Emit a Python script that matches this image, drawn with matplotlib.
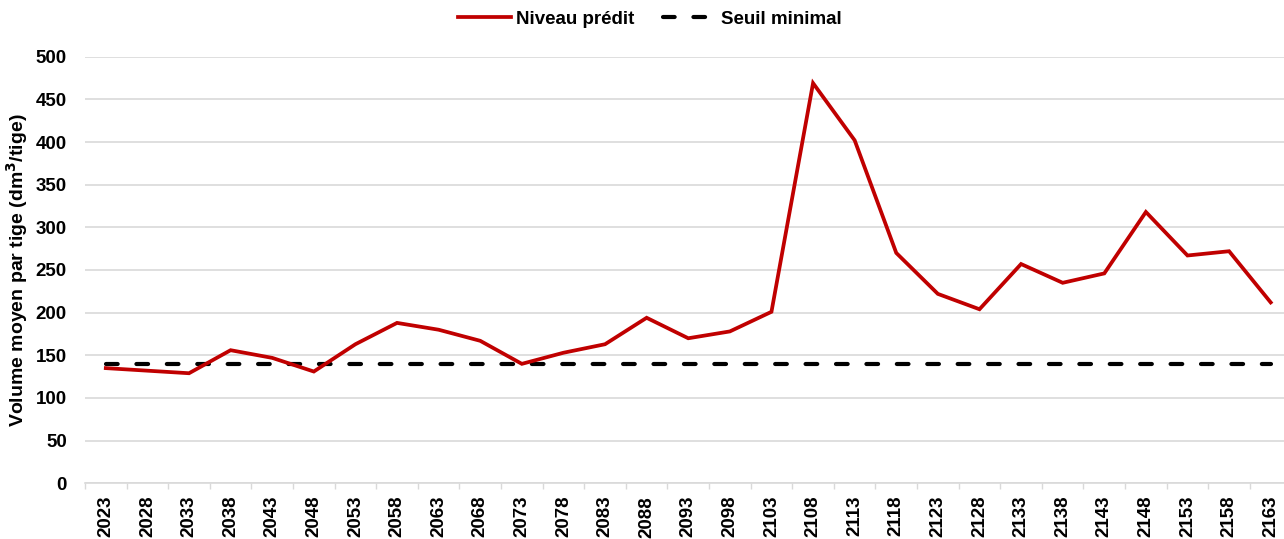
import numpy as np
import matplotlib
matplotlib.use("Agg")
import matplotlib.pyplot as plt

plt.rcParams['font.family'] = ['Liberation Sans', 'DejaVu Sans']
plt.rcParams['font.weight'] = 'bold'

# data
annees = list(range(2023, 2164, 5))
niveau = [135, 132, 129, 156, 147, 131, 163, 188, 180, 167,
          140, 153, 163, 194, 170, 178, 201, 469, 402, 270,
          222, 204, 257, 235, 246, 318, 267, 272, 212]
seuil = [140] * len(annees)

fig = plt.figure(figsize=(12.84, 5.39), dpi=100)
ax = fig.add_axes([85 / 1284, 1 - 483.3 / 539, 1206.5 / 1284, 426.6 / 539])

x = np.arange(len(annees))
ax.plot(x, niveau, color='#c00000', lw=2.7, label='Niveau prédit',
        solid_joinstyle='miter', zorder=3)
ax.plot(x, seuil, color='black', lw=3, dashes=(2.8, 4.5),
        dash_capstyle='round', label='Seuil minimal', zorder=2)

ax.set_xlim(-0.5, len(annees) - 0.5)
ax.set_ylim(0, 500)
ax.set_yticks(range(0, 501, 50))
ax.set_xticks(x)
ax.set_xticklabels([str(a) for a in annees], rotation=90, fontsize=13.5, fontweight='bold')
ax.set_xticks(np.arange(-0.5, len(annees), 1), minor=True)
ax.tick_params(axis='x', which='major', length=0, pad=9)
ax.tick_params(axis='x', which='minor', length=4, color='#d9d9d9', width=1)
ax.tick_params(axis='y', length=0, pad=13, labelsize=13.5)
for lab in ax.get_yticklabels():
    lab.set_fontweight('bold')

ax.grid(axis='y', color='#d9d9d9', lw=1.2)
ax.set_axisbelow(True)
for s in ['top', 'right', 'left']:
    ax.spines[s].set_visible(False)
ax.spines['bottom'].set_color('#d9d9d9')
ax.spines['bottom'].set_linewidth(1.2)

ax.set_ylabel('Volume moyen par tige (dm$^{\\mathbf{3}}$/tige)', fontsize=14,
              fontweight='bold', labelpad=4)

handles, labels = ax.get_legend_handles_labels()
fig.legend(handles, labels, loc='center', bbox_to_anchor=(650 / 1284, 1 - 19 / 539),
           ncol=2, frameon=False, fontsize=13.5, handlelength=2.8,
           handletextpad=0.3, columnspacing=1.5)

fig.savefig('out.png', dpi=100)
